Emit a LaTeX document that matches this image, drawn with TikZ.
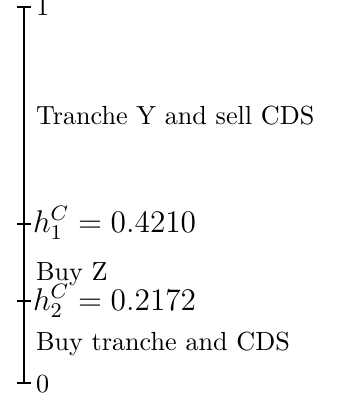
\documentclass[tikz,border=0pt]{standalone}
\begin{document}
\begin{tikzpicture}[x=0.382pt,y=-0.382pt,
  lbl/.style={anchor=base west,inner sep=0pt,outer sep=0pt},
  mlbl/.style={lbl,font=\large},
  tickline/.style={line width=0.4pt}]
\useasboundingbox (0,0) rectangle (347,402);
\coordinate (top) at (24,7);
\coordinate (bot) at (24,383);
\draw[tickline] (top) -- (bot);
% ticks
\coordinate (t1l) at (17,7);   \coordinate (t1r) at (31,7);
\coordinate (h1l) at (17,224); \coordinate (h1r) at (31,224);
\coordinate (h2l) at (17,301); \coordinate (h2r) at (31,301);
\coordinate (t0l) at (17,383); \coordinate (t0r) at (31,383);
\draw[tickline] (t1l) -- (t1r);
\draw[tickline] (h1l) -- (h1r);
\draw[tickline] (h2l) -- (h2r);
\draw[tickline] (t0l) -- (t0r);
% labels
\node[lbl] (one) at (36,16) {1};
\node[lbl] (zero) at (36,392) {0};
\node[mlbl] (hone) at (33,232) {$h_1^C = 0.4210$};
\node[mlbl] (htwo) at (33,310) {$h_2^C = 0.2172$};
\node[lbl] (ty) at (36,125) {Tranche Y and sell CDS};
\node[lbl] (bz) at (36,280) {Buy Z};
\node[lbl] (bt) at (36,350) {Buy tranche and CDS};
\end{tikzpicture}
\end{document}
